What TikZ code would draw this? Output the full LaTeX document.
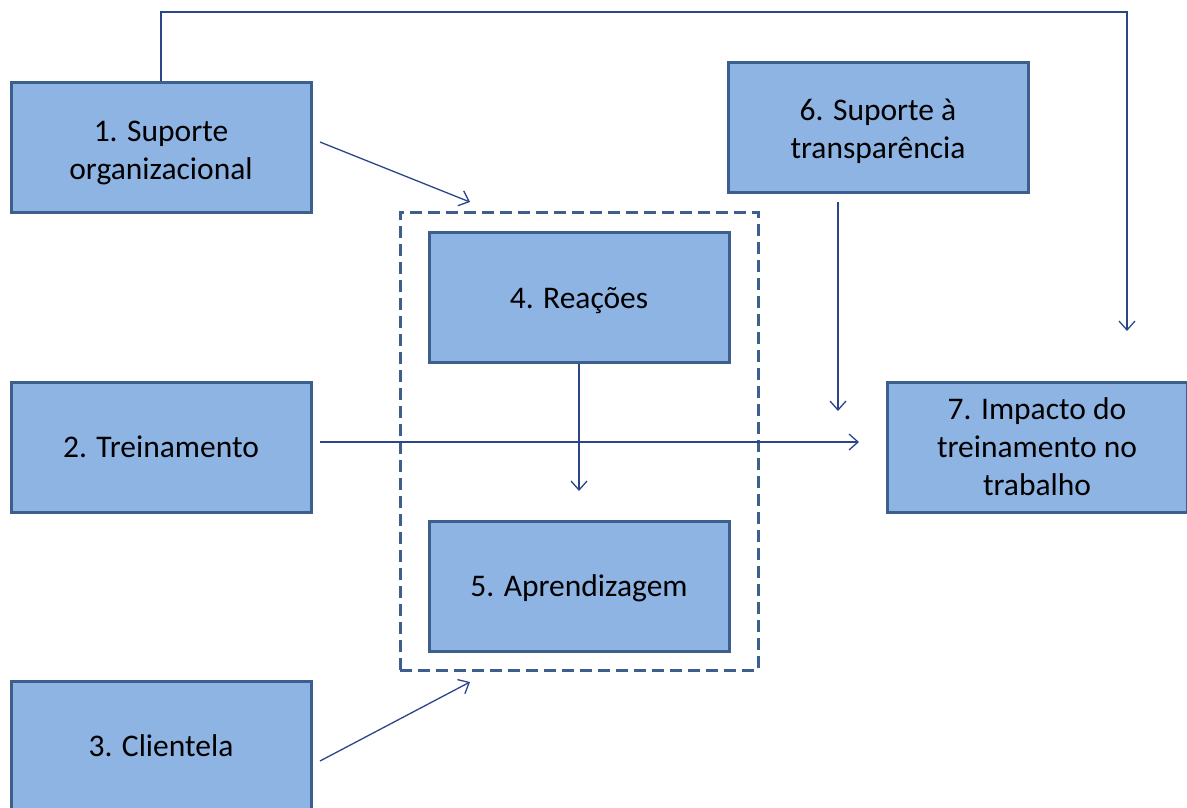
\documentclass[tikz,border=0pt]{standalone}
\usepackage{fontspec}
\setmainfont{Carlito}
\usetikzlibrary{arrows.meta}
\definecolor{boxfill}{HTML}{8EB4E3}
\definecolor{boxdraw}{HTML}{3D5F8E}
\definecolor{arrowc}{HTML}{2B4589}
\newcommand{\lowstrut}[1]{\rule{0pt}{#1}}
\begin{document}
\begin{tikzpicture}[x=1pt,y=-1pt,
 blk/.style={draw=boxdraw,fill=boxfill,line width=3pt,minimum width=300pt,minimum height=130pt,align=center,font=\fontsize{31.5}{38}\selectfont,inner sep=0pt},
 conn/.style={draw=arrowc,line width=1.3pt,-{Straight Barb[length=9pt,width=16pt,line width=1.3pt]}}]
\useasboundingbox (0,0) rectangle (1187,807);
\clip (0,0) rectangle (1187,807);
\node[draw=boxdraw,line width=3pt,dash pattern=on 12pt off 6pt,minimum width=358pt,minimum height=458pt,inner sep=0pt] (grp) at (579,441) {};
\node[blk] (b1) at (161,147) {\lowstrut{33pt}1. Suporte\\organizacional};
\node[blk] (b2) at (161,447) {2. Treinamento};
\node[blk] (b3) at (161,746) {3. Clientela};
\node[blk] (b4) at (579,297) {\lowstrut{28pt}4. Reações};
\node[blk] (b5) at (579,586) {\lowstrut{26pt}5. Aprendizagem};
\node[blk] (b6) at (878,127) {\lowstrut{31pt}6. Suporte à\\transparência};
\node[blk] (b7) at (1037,447) {7. Impacto do\\treinamento no\\trabalho};
% connectors
\coordinate (c1s) at (320,142);
\coordinate (c1e) at (470,202);
\draw[conn] (c1s) -- (c1e);
\coordinate (c2s) at (320,442);
\coordinate (c2e) at (859,442);
\draw[conn] (c2s) -- (c2e);
\coordinate (c3s) at (320,761);
\coordinate (c3e) at (470,682);
\draw[conn] (c3s) -- (c3e);
\coordinate (c4e) at (579,491);
\draw[conn] (b4.south) -- (c4e);
\coordinate (c6s) at (838,202);
\coordinate (c6e) at (838,411);
\draw[conn] (c6s) -- (c6e);
\coordinate (c7e) at (1127,331);
\draw[conn] (b1.north) -- (161,12) -- (1127,12) -- (c7e);
\end{tikzpicture}
\end{document}
